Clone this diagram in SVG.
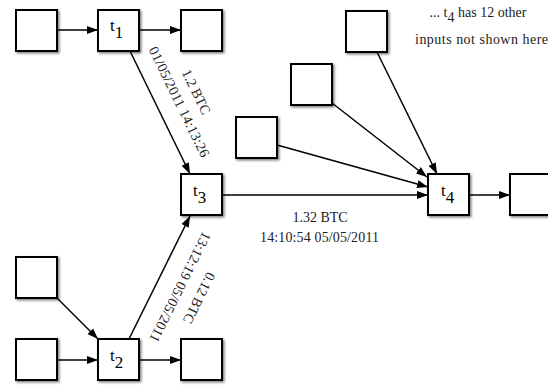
<svg xmlns="http://www.w3.org/2000/svg" width="548" height="385" viewBox="0 0 548 385">
<style>
.box{fill:#fff;stroke:#000;stroke-width:2;filter:url(#sh)}
text{font-family:'Liberation Serif','DejaVu Serif',serif}
.lbl{font-size:14px;fill:#222}
.tl{font-size:17px;fill:#000}
.c{stroke:#000;stroke-width:1.5;fill:none;marker-end:url(#ah)}
</style>
<defs>
<filter id="sh" x="-20%" y="-20%" width="150%" height="150%">
<feDropShadow dx="1.5" dy="1.5" stdDeviation="1.2" flood-color="#000" flood-opacity="0.5"/>
</filter>
<marker id="ah" markerUnits="userSpaceOnUse" markerWidth="12" markerHeight="9" refX="11" refY="4.5" orient="auto">
<path d="M0,0.5 L11,4.5 L0,8.5 z" fill="#000"/>
</marker>
</defs>
<g id="connectors">
<line class="c" x1="57" y1="30" x2="98" y2="30"/>
<line class="c" x1="139" y1="30" x2="181" y2="30"/>
<line class="c" x1="130" y1="51" x2="190" y2="174"/>
<line class="c" x1="57" y1="298" x2="98" y2="339"/>
<line class="c" x1="57" y1="360" x2="98" y2="360"/>
<line class="c" x1="139" y1="360" x2="181" y2="360"/>
<line class="c" x1="129" y1="339" x2="190" y2="216"/>
<line class="c" x1="222" y1="195" x2="428" y2="195"/>
<line class="c" x1="470" y1="195" x2="510" y2="195"/>
<line class="c" x1="277" y1="145" x2="428" y2="187"/>
<line class="c" x1="332" y1="103" x2="427" y2="177"/>
<line class="c" x1="377" y1="52" x2="437" y2="174"/>
</g>
<g id="n1"><rect class="box" x="16" y="10" width="41" height="41"/></g>
<g id="t1"><rect class="box" x="98" y="10" width="41" height="41"/><text class="tl" x="110" y="31">t<tspan dy="7">1</tspan></text></g>
<g id="n2"><rect class="box" x="181" y="10" width="41" height="41"/></g>
<g id="t3"><rect class="box" x="181" y="174" width="41" height="41"/><text class="tl" x="193" y="196">t<tspan dy="7">3</tspan></text></g>
<g id="n3"><rect class="box" x="236" y="117" width="41" height="41"/></g>
<g id="n4"><rect class="box" x="291" y="64" width="41" height="41"/></g>
<g id="n5"><rect class="box" x="346" y="11" width="41" height="41"/></g>
<g id="t4"><rect class="box" x="428" y="174" width="41" height="41"/><text class="tl" x="441" y="196">t<tspan dy="7">4</tspan></text></g>
<g id="n6"><rect class="box" x="510" y="174" width="41" height="41"/></g>
<g id="n7"><rect class="box" x="16" y="257" width="41" height="41"/></g>
<g id="n8"><rect class="box" x="16" y="339" width="41" height="41"/></g>
<g id="t2"><rect class="box" x="98" y="339" width="41" height="41"/><text class="tl" x="110" y="361">t<tspan dy="7">2</tspan></text></g>
<g id="n9"><rect class="box" x="181" y="339" width="41" height="41"/></g>
<g id="labels">
<text class="lbl" text-anchor="middle" transform="translate(192,94) rotate(64)">1.2 BTC</text>
<text class="lbl" text-anchor="middle" transform="translate(175,104) rotate(64)" textLength="121" lengthAdjust="spacing">01/05/2011 14:13:26</text>
<text class="lbl" text-anchor="middle" transform="translate(195,296) rotate(116.4)">0.12 BTC</text>
<text class="lbl" text-anchor="middle" transform="translate(176,285) rotate(116.4)" textLength="121" lengthAdjust="spacing">13:12:19 05/05/2011</text>
<text class="lbl" text-anchor="middle" x="320" y="222">1.32 BTC</text>
<text class="lbl" text-anchor="middle" x="319.5" y="242" textLength="119" lengthAdjust="spacing">14:10:54 05/05/2011</text>
<text class="lbl" text-anchor="middle" x="478" y="17">... t<tspan dy="5">4</tspan><tspan dy="-5"> has 12 other</tspan></text>
<text class="lbl" x="415" y="44" textLength="133" lengthAdjust="spacing">inputs not shown here</text>
</g>
</svg>
